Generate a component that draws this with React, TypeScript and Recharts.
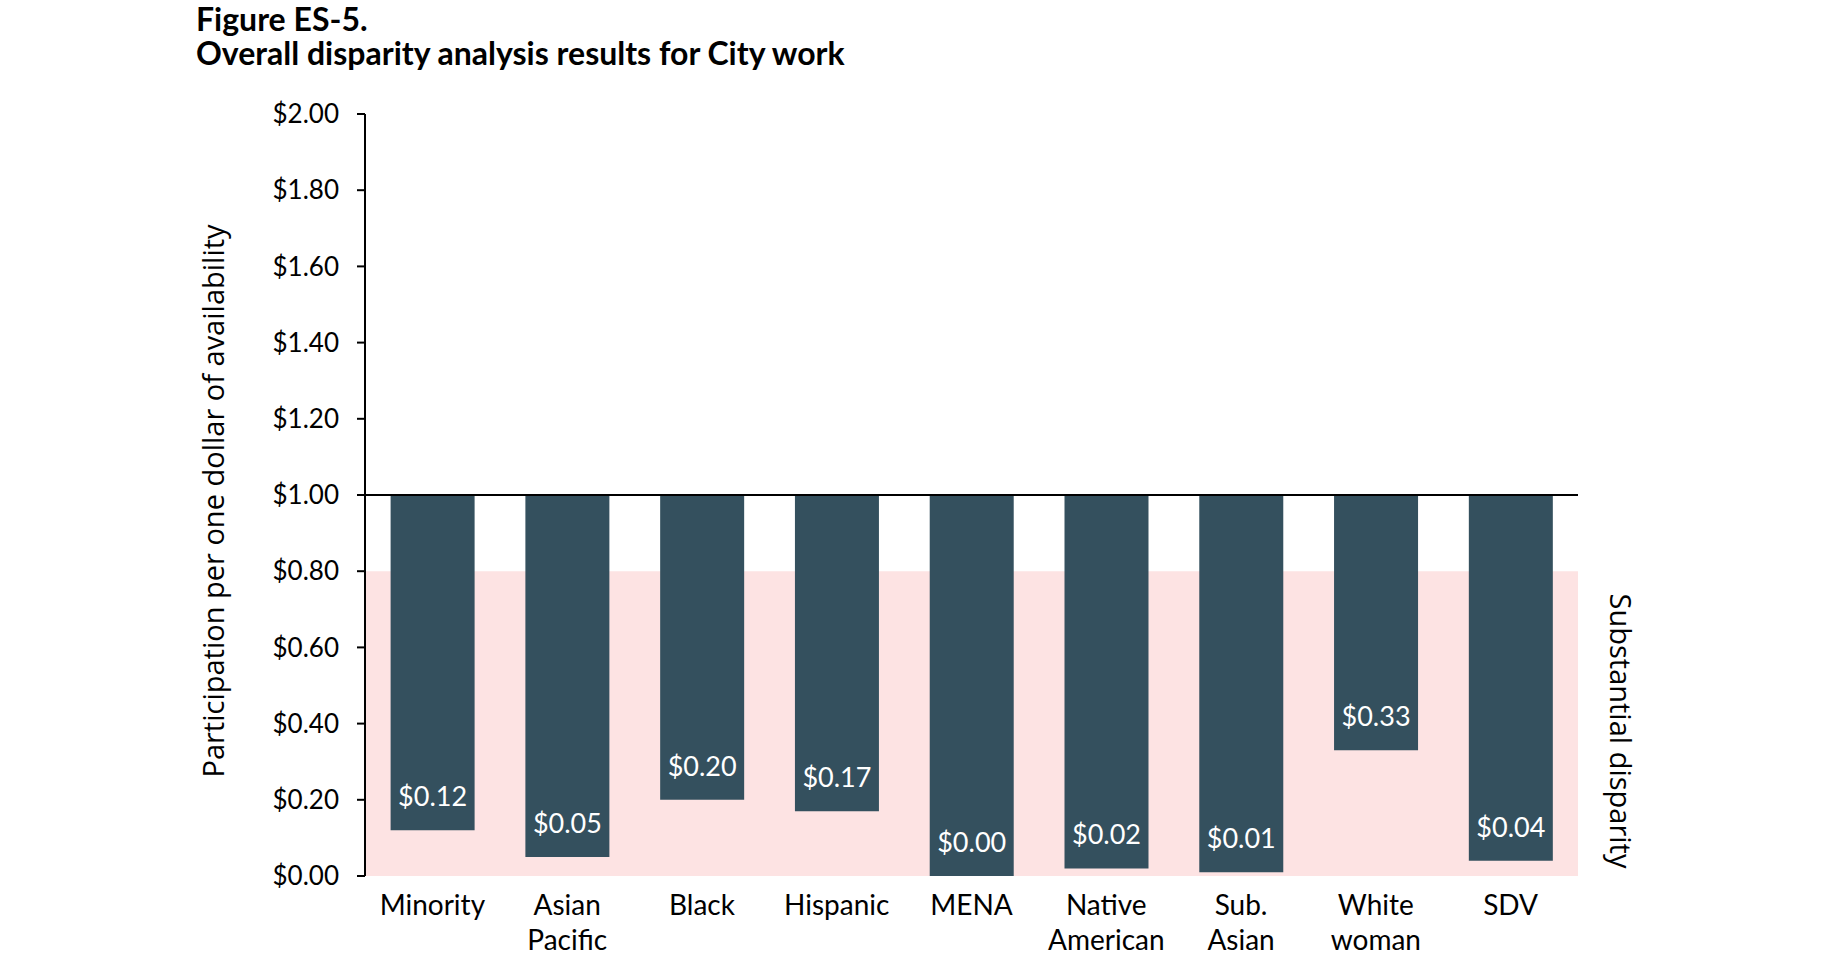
import React from "react";
import { BarChart, Bar, XAxis, YAxis, ReferenceArea, ReferenceLine, LabelList } from "recharts";

const categories = ["Minority", "Asian\nPacific", "Black", "Hispanic", "MENA", "Native\nAmerican", "Sub.\nAsian", "White\nwoman", "SDV"];
const disparityIndex = [0.12, 0.05, 0.2, 0.17, 0.0, 0.02, 0.01, 0.33, 0.04];
const yTicks = [0, 0.2, 0.4, 0.6, 0.8, 1.0, 1.2, 1.4, 1.6, 1.8, 2.0];
const parity = 1.0;
const substantialLimit = 0.8;

const BAR = "#34505E";
const PINK = "#FDE3E3";
const FONT = "Lato, 'Open Sans', sans-serif";
const LABEL_FONT = "'Open Sans', 'Noto Sans', sans-serif";

const data = categories.map((name, i) => ({ name, value: disparityIndex[i] }));

const money = (v: number) => `$${v.toFixed(2)}`;

function CategoryTick({ x, y, payload }: any) {
  const lines = String(payload.value).split("\n");
  return (
    <text x={x} y={y} textAnchor="middle" fill="#000" fontSize={28} fontFamily={FONT}>
      {lines.map((ln, i) => (
        <tspan key={i} x={x} dy={i === 0 ? 31 : 35}>{ln}</tspan>
      ))}
    </text>
  );
}

function ValueLabel({ x, y, width, height, value }: any) {
  const bottom = Number(y) + Number(height);
  return (
    <text x={Number(x) + Number(width) / 2} y={bottom - 24} textAnchor="middle" fill="#fff" fontSize={27} fontFamily={FONT}>
      {money(Number(value))}
    </text>
  );
}

export default function App() {
  return (
    <div style={{ position: "relative", width: 1824, height: 955, background: "#fff" }}>
      <style>{"body{margin:0}"}</style>
      <div style={{ position: "absolute", left: 196, top: 2, fontFamily: FONT, fontWeight: 700, fontSize: 32, lineHeight: "34px", color: "#000" }}>
        <div>Figure ES-5.</div>
        <div>Overall disparity analysis results for City work</div>
      </div>
      <BarChart
        width={1824}
        height={955}
        data={data}
        margin={{ top: 114, right: 246, bottom: 9, left: 265 }}
        barCategoryGap="19%"
      >
        <ReferenceArea y1={0} y2={substantialLimit} fill={PINK} fillOpacity={1} stroke="none" />
        <XAxis dataKey="name" axisLine={false} tickLine={false} height={70} interval={0} tick={<CategoryTick />} />
        <YAxis
          domain={[0, 2]}
          ticks={yTicks}
          width={100}
          tickFormatter={money}
          axisLine={{ stroke: "#000", strokeWidth: 2 }}
          tickLine={{ stroke: "#000", strokeWidth: 2 }}
          tickSize={8}
          tickMargin={18}
          tick={{ fill: "#000", fontSize: 26, fontFamily: FONT }}
          interval={0}
        />
        <Bar dataKey={(d: any) => [d.value, parity]} fill={BAR} isAnimationActive={false}>
          <LabelList dataKey="value" content={<ValueLabel />} />
        </Bar>
        <ReferenceLine y={parity} stroke="#000" strokeWidth={2} />
      </BarChart>
      <div
        style={{
          position: "absolute", left: 212, top: 501, transform: "translate(-50%, -50%) rotate(-90deg)",
          whiteSpace: "nowrap", fontFamily: LABEL_FONT, fontSize: 29, color: "#000",
        }}
      >
        Participation per one dollar of availability
      </div>
      <div
        style={{
          position: "absolute", left: 1621, top: 731, transform: "translate(-50%, -50%) rotate(90deg)",
          whiteSpace: "nowrap", fontFamily: LABEL_FONT, fontSize: 29, color: "#000",
        }}
      >
        Substantial disparity
      </div>
    </div>
  );
}
